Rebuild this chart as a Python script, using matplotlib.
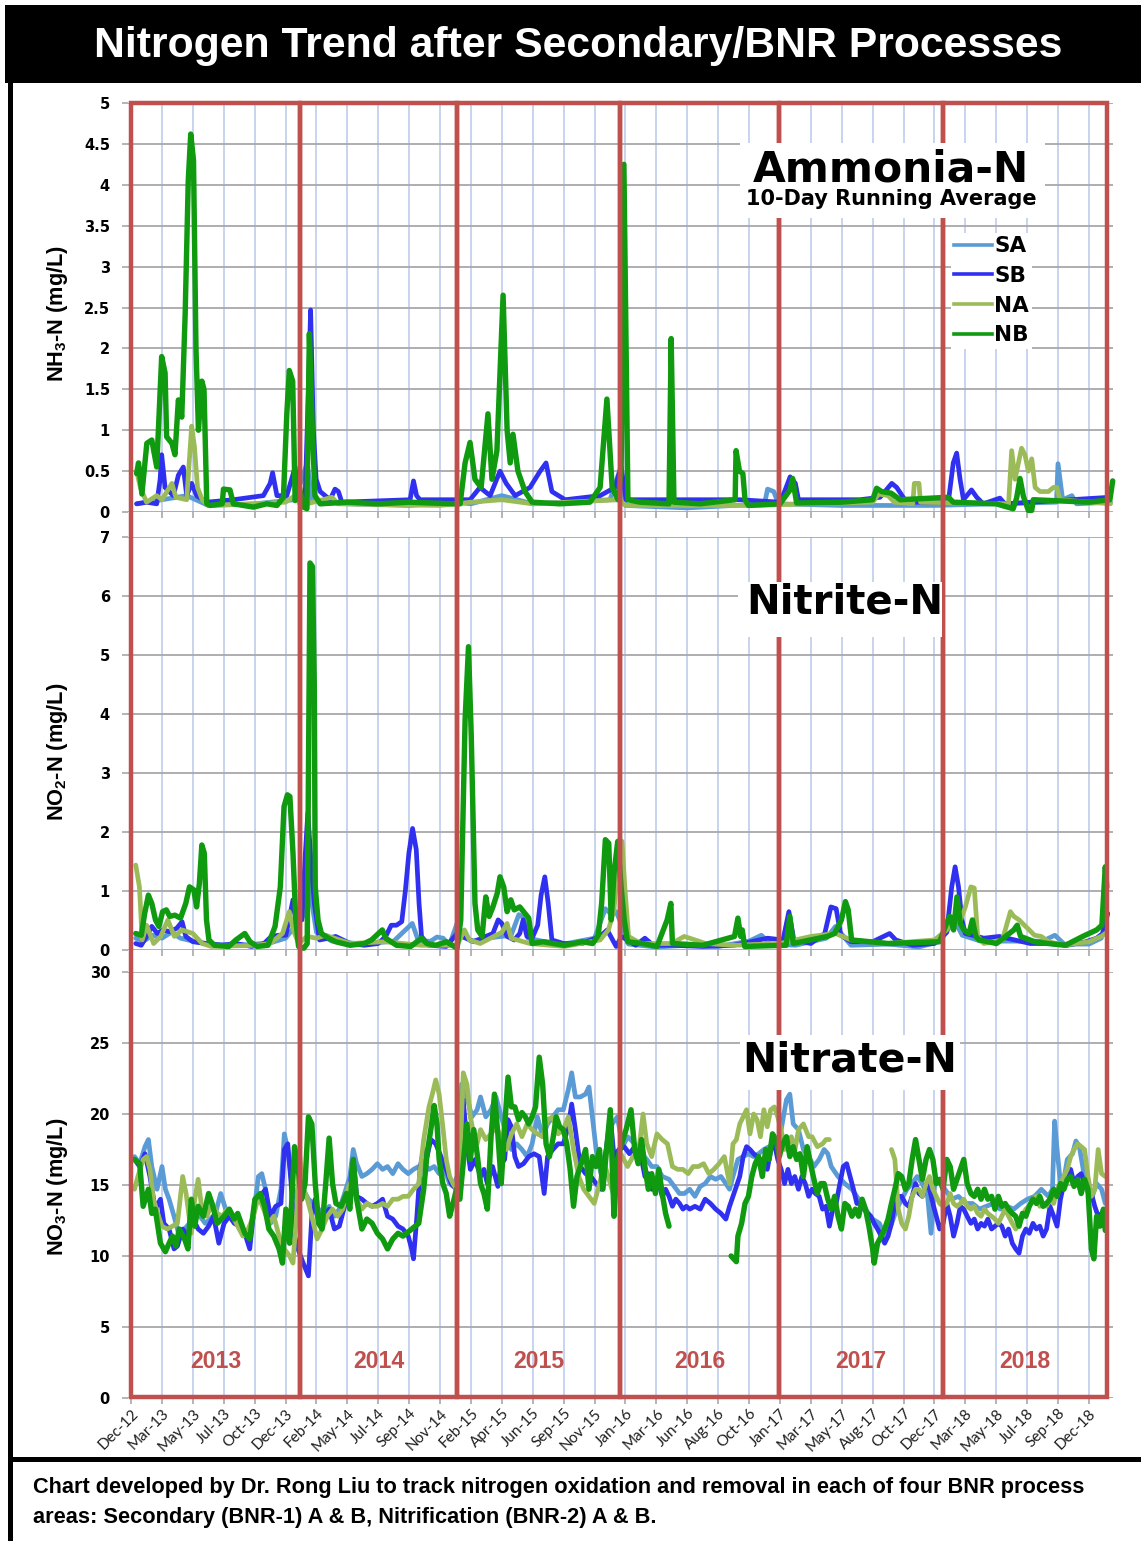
import numpy as np
import matplotlib
matplotlib.use('Agg')
import matplotlib.pyplot as plt
from matplotlib import font_manager as fm
from matplotlib.patches import Rectangle
from matplotlib.lines import Line2D
import matplotlib.transforms as mtransforms

# ---------------- data ----------------
XLABELS = ['Dec-12','Mar-13','May-13','Jul-13','Oct-13','Dec-13','Feb-14','May-14','Jul-14','Sep-14',
           'Nov-14','Feb-15','Apr-15','Jun-15','Sep-15','Nov-15','Jan-16','Mar-16','Jun-16','Aug-16',
           'Oct-16','Jan-17','Mar-17','May-17','Aug-17','Oct-17','Dec-17','Mar-18','May-18','Jul-18',
           'Sep-18','Dec-18']
YEARS = ['2013', '2014', '2015', '2016', '2017', '2018']
YEAR_EDGES = [0, 5.47, 10.55, 15.83, 20.97, 26.28, 31.59]   # in axis (tick-index) units
SERIES = ['SA', 'SB', 'NA', 'NB']
NAN = float('nan')

# Ammonia-N (mg/L): (x in tick units, value)
NH3_SA = [(0.18,0.10),(1.0,0.15),(1.8,0.20),(2.5,0.08),(4.0,0.10),(5.3,0.15),(5.7,0.60),(5.85,0.15),(7,0.10),
          (9,0.08),(10.5,0.12),(11.0,0.10),(12.0,0.20),(13.0,0.10),(15.5,0.15),(15.85,0.55),(16.0,0.08),
          (18,0.05),(20.5,0.10),(20.6,0.28),(20.8,0.25),(20.95,0.10),(23,0.08),(26,0.08),(28,0.10),
          (29.95,0.12),(30.0,0.59),(30.15,0.15),(30.45,0.20),(30.6,0.10),(31.7,0.12)]
NH3_SB = [(0.18,0.10),(0.5,0.12),(0.83,0.10),(0.94,0.40),(0.99,0.70),(1.10,0.30),(1.37,0.20),(1.53,0.45),
          (1.69,0.55),(1.80,0.20),(1.96,0.35),(2.12,0.20),(2.45,0.12),(3.31,0.15),(4.28,0.20),(4.50,0.35),
          (4.58,0.48),(4.72,0.20),(5.04,0.20),(5.31,0.55),(5.42,0.20),(5.63,0.15),(5.74,1.50),(5.81,2.47),
          (5.90,1.00),(5.99,0.40),(6.12,0.25),(6.44,0.15),(6.60,0.28),(6.71,0.25),(6.82,0.12),(9.03,0.15),
          (9.14,0.38),(9.24,0.20),(9.35,0.15),(10.43,0.15),(10.97,0.15),(11.29,0.30),(11.62,0.20),
          (11.94,0.50),(12.14,0.35),(12.43,0.20),(12.91,0.30),(13.24,0.50),(13.43,0.60),(13.62,0.25),
          (14.05,0.15),(15.18,0.20),(15.66,0.30),(15.86,0.55),(16.02,0.15),(18.41,0.15),(19.71,0.15),
          (21.0,0.12),(21.17,0.27),(21.33,0.43),(21.5,0.35),(21.6,0.15),(23.59,0.15),(24.24,0.18),
          (24.62,0.35),(24.78,0.30),(24.99,0.18),(25.1,0.12),(26.45,0.12),(26.61,0.60),(26.72,0.72),
          (26.83,0.40),(26.94,0.15),(27.2,0.27),(27.37,0.18),(27.58,0.10),(28.12,0.17),(28.28,0.10),
          (31.68,0.18)]
NH3_NA = [(0.18,0.50),(0.3,0.30),(0.5,0.12),(0.83,0.20),(1.0,0.15),(1.32,0.35),(1.45,0.18),(1.8,0.15),
          (1.96,1.05),(2.05,0.80),(2.15,0.30),(2.3,0.15),(2.5,0.08),(4,0.10),(5.0,0.12),(5.3,0.20),(5.5,0.08),
          (6.5,0.18),(6.7,0.10),(10,0.08),(11,0.12),(12,0.15),(13,0.10),(15.8,0.15),(16,0.08),(20,0.08),
          (24.0,0.12),(24.2,0.22),(24.5,0.20),(24.7,0.12),(25.3,0.10),(25.35,0.35),(25.5,0.35),(25.55,0.12),
          (28.4,0.10),(28.5,0.75),(28.61,0.40),(28.72,0.60),(28.82,0.78),(28.93,0.70),(29.04,0.50),
          (29.15,0.65),(29.26,0.30),(29.42,0.25),(29.69,0.25),(29.85,0.30),(29.96,0.30),(30.06,0.15),
          (31.7,0.10)]
NH3_NB = [(0.18,0.47),(0.24,0.60),(0.35,0.22),(0.51,0.84),(0.67,0.88),(0.83,0.55),(0.99,1.90),(1.10,1.70),
          (1.15,0.92),(1.32,0.84),(1.42,0.70),(1.53,1.37),(1.64,1.16),(1.75,2.42),(1.85,4.05),(1.93,4.62),
          (2.02,4.30),(2.10,2.00),(2.18,1.00),(2.29,1.60),(2.36,1.50),(2.45,0.10),(2.56,0.08),(2.95,0.10),
          (2.99,0.28),(3.20,0.27),(3.31,0.10),(3.96,0.06),(4.39,0.10),(4.72,0.08),(4.93,0.18),(5.04,1.20),
          (5.12,1.73),(5.23,1.60),(5.31,0.14),(5.45,0.30),(5.58,0.06),(5.69,0.04),(5.77,2.18),(5.85,1.20),
          (5.95,0.20),(6.12,0.10),(7.0,0.12),(8.0,0.10),(9.0,0.12),(10.43,0.10),(10.65,0.10),(10.81,0.60),
          (10.97,0.85),(11.13,0.40),(11.33,0.30),(11.55,1.20),(11.68,0.40),(11.84,0.75),(12.04,2.65),
          (12.17,1.00),(12.27,0.60),(12.36,0.95),(12.52,0.50),(12.75,0.25),(12.98,0.12),(13.88,0.10),
          (14.85,0.12),(15.18,0.30),(15.40,1.38),(15.57,0.30),(15.76,0.15),(15.86,0.50),(15.95,4.25),
          (16.08,0.15),(16.47,0.12),(17.41,0.10),(17.48,2.12),(17.57,0.12),(18.41,0.10),(19.55,0.15),
          (19.58,0.75),(19.69,0.50),(19.80,0.47),(19.87,0.15),(19.98,0.08),(21.0,0.10),(21.33,0.27),
          (21.41,0.41),(21.54,0.11),(23.0,0.12),(24.0,0.15),(24.13,0.29),(24.29,0.25),(24.6,0.23),
          (24.89,0.15),(26.45,0.18),(26.61,0.12),(28.0,0.10),(28.55,0.04),(28.66,0.17),(28.77,0.41),
          (28.88,0.19),(29.04,0.02),(29.15,0.02),(29.20,0.15),(31.0,0.12),(31.68,0.15),(31.77,0.38)]

# Nitrite-N (mg/L)
NO2_SA = [(0.15,0.20),(0.4,0.15),(0.7,0.25),(1.0,0.20),(1.3,0.30),(1.6,0.20),(2.0,0.15),(2.5,0.10),(3.5,0.08),
          (4.5,0.12),(5.0,0.20),(5.3,0.40),(5.6,0.60),(5.75,1.50),(5.85,0.80),(6.0,0.30),(6.5,0.15),(7.5,0.10),
          (8.5,0.15),(8.9,0.35),(9.1,0.45),(9.3,0.15),(9.7,0.15),(9.9,0.22),(10.1,0.20),(10.3,0.08),
          (10.55,0.45),(10.7,0.30),(11.0,0.15),(11.5,0.20),(12.3,0.25),(12.55,0.60),(12.7,0.55),(12.85,0.20),
          (13.3,0.15),(14.0,0.10),(15.0,0.20),(15.35,0.70),(15.55,0.60),(15.7,0.65),(15.9,0.40),(16.1,0.10),
          (17.0,0.05),(18.0,0.08),(19.0,0.06),(20.0,0.15),(20.4,0.25),(20.7,0.10),(21.5,0.08),(22.5,0.20),
          (22.8,0.40),(22.95,0.30),(23.3,0.08),(24.5,0.10),(25.5,0.05),(26.2,0.15),(26.5,0.40),(26.7,0.45),
          (26.9,0.25),(27.5,0.15),(28.5,0.15),(29.5,0.15),(29.9,0.25),(30.2,0.10),(31.0,0.10),(31.4,0.20),
          (31.58,0.60)]
NO2_SB = [(0.15,0.11),(0.33,0.08),(0.50,0.23),(0.67,0.40),(0.85,0.28),(1.02,0.34),(1.25,0.31),(1.48,0.37),
          (1.65,0.48),(1.77,0.23),(2.0,0.14),(2.44,0.11),(2.93,0.08),(3.4,0.11),(3.9,0.06),(4.3,0.11),
          (4.54,0.23),(4.78,0.25),(5.01,0.25),(5.24,0.85),(5.36,0.51),(5.53,0.51),(5.64,1.64),(5.72,2.32),
          (5.82,1.53),(5.93,0.79),(6.10,0.17),(6.39,0.20),(6.62,0.23),(7.09,0.11),(7.55,0.08),(8.0,0.11),
          (8.24,0.23),(8.42,0.42),(8.59,0.42),(8.76,0.48),(8.88,1.02),(8.99,1.64),(9.11,2.06),(9.23,1.70),
          (9.32,0.79),(9.40,0.23),(9.63,0.08),(10.2,0.06),(10.55,0.28),(10.7,0.23),(11.1,0.14),(11.48,0.23),
          (11.71,0.28),(11.88,0.51),(12.0,0.45),(12.17,0.23),(12.4,0.17),(12.58,0.28),(12.69,0.51),
          (12.81,0.23),(12.98,0.20),(13.16,0.42),(13.27,0.93),(13.39,1.24),(13.50,0.79),(13.62,0.17),
          (14.0,0.11),(14.6,0.11),(15.18,0.23),(15.41,0.34),(15.70,0.06),(15.87,0.23),(16.33,0.08),
          (16.63,0.20),(16.9,0.08),(17.5,0.08),(18.5,0.06),(19.5,0.08),(20.6,0.20),(21.1,0.17),(21.29,0.65),
          (21.45,0.17),(22.0,0.11),(22.45,0.28),(22.65,0.73),(22.82,0.70),(22.97,0.25),(23.3,0.14),
          (24.0,0.14),(24.55,0.28),(24.75,0.17),(25.3,0.08),(26.0,0.11),(26.4,0.30),(26.56,1.07),
          (26.67,1.41),(26.78,1.07),(26.89,0.51),(27.0,0.28),(27.6,0.20),(28.1,0.23),(28.6,0.17),
          (29.1,0.11),(29.7,0.11),(30.3,0.08),(30.9,0.14),(31.25,0.20),(31.45,0.28),(31.61,0.62)]
NO2_NA = [(0.15,1.44),(0.27,1.07),(0.36,0.17),(0.5,0.42),(0.73,0.11),(0.96,0.23),(1.19,0.51),(1.4,0.23),
          (1.65,0.34),(2.0,0.28),(2.3,0.11),(2.6,0.06),(4.0,0.08),(4.5,0.11),(4.9,0.28),(5.12,0.65),
          (5.25,0.34),(5.42,0.11),(5.7,0.23),(6.0,0.20),(6.3,0.25),(7.09,0.11),(8.2,0.14),(9.4,0.08),
          (10.55,0.08),(10.79,0.34),(10.95,0.17),(11.3,0.11),(12.0,0.30),(12.17,0.45),(12.3,0.20),
          (12.9,0.11),(14.02,0.06),(15.18,0.17),(15.45,0.34),(15.63,0.68),(15.81,1.87),(15.89,1.84),
          (15.98,1.07),(16.1,0.23),(16.5,0.11),(17.5,0.11),(17.9,0.23),(18.08,0.20),(18.6,0.11),(19.5,0.08),
          (21.0,0.11),(22.0,0.23),(22.8,0.28),(23.3,0.17),(24.5,0.11),(26.0,0.17),(26.4,0.34),(26.7,0.62),
          (26.85,0.51),(27.0,0.73),(27.18,1.07),(27.29,1.05),(27.4,0.23),(27.6,0.11),(28.2,0.17),
          (28.46,0.65),(28.57,0.57),(28.74,0.51),(29.01,0.37),(29.24,0.25),(29.46,0.23),(29.7,0.14),
          (30.2,0.08),(31.0,0.14),(31.4,0.23),(31.58,0.30)]
NO2_NB = [(0.15,0.28),(0.33,0.25),(0.44,0.62),(0.56,0.93),(0.67,0.79),(0.79,0.51),(0.90,0.40),(1.02,0.65),
          (1.14,0.68),(1.25,0.57),(1.42,0.59),(1.60,0.54),(1.77,0.79),(1.89,1.07),(2.03,1.02),(2.12,0.73),
          (2.21,1.13),(2.29,1.78),(2.37,1.64),(2.44,0.51),(2.52,0.17),(2.70,0.08),(3.16,0.06),(3.39,0.17),
          (3.68,0.28),(3.85,0.14),(4.08,0.06),(4.43,0.08),(4.66,0.40),(4.83,1.07),(4.95,2.43),(5.06,2.63),
          (5.14,2.60),(5.24,1.64),(5.33,0.51),(5.42,0.06),(5.59,0.03),(5.70,0.11),(5.79,6.56),(5.87,6.50),
          (5.93,4.47),(5.96,1.07),(6.05,0.51),(6.16,0.28),(6.39,0.20),(6.62,0.14),(7.09,0.08),(7.55,0.11),
          (7.78,0.17),(8.13,0.34),(8.24,0.20),(8.59,0.08),(9.05,0.06),(9.40,0.20),(9.57,0.11),(9.86,0.08),
          (10.21,0.14),(10.55,0.03),(10.67,0.51),(10.81,3.90),(10.92,5.14),(11.01,3.62),(11.13,0.79),
          (11.22,0.34),(11.36,0.23),(11.48,0.90),(11.59,0.57),(11.71,0.73),(11.85,0.96),(11.94,1.24),
          (12.06,1.07),(12.17,0.65),(12.29,0.85),(12.40,0.68),(12.58,0.73),(12.75,0.62),(12.87,0.54),
          (12.98,0.11),(13.33,0.14),(14.02,0.08),(14.60,0.14),(14.94,0.11),(15.12,0.25),(15.23,0.79),
          (15.35,1.87),(15.46,1.81),(15.54,0.51),(15.63,1.30),(15.75,1.84),(15.86,1.07),(15.96,0.51),
          (16.07,0.14),(16.56,0.11),(17.02,0.06),(17.35,0.51),(17.47,0.79),(17.52,0.11),(18.5,0.08),
          (19.53,0.23),(19.64,0.54),(19.73,0.23),(19.78,0.34),(19.86,0.06),(21.2,0.08),(21.32,0.57),
          (21.43,0.11),(22.54,0.23),(22.77,0.28),(22.99,0.51),(23.12,0.82),(23.21,0.68),(23.32,0.17),
          (24.5,0.11),(26.17,0.14),(26.39,0.45),(26.50,0.57),(26.62,0.34),(26.73,0.90),(26.84,0.45),
          (26.95,0.34),(27.12,0.28),(27.23,0.51),(27.34,0.23),(27.45,0.17),(28.01,0.11),(28.57,0.34),
          (28.68,0.42),(28.79,0.23),(29.24,0.14),(29.69,0.11),(30.24,0.08),(30.80,0.23),(31.25,0.34),
          (31.42,0.42),(31.53,1.41),(31.58,1.07)]

# Nitrate-N (mg/L)
NO3_SA = [(0.11,17.0),(0.28,16.5),(0.45,17.7),(0.56,18.2),(0.67,16.3),(0.84,14.7),(1.00,16.3),(1.11,14.7),
          (1.23,14.0),(1.39,12.8),(1.56,11.4),(1.73,11.9),(1.89,12.3),(2.06,13.3),(2.23,12.8),(2.40,12.3),
          (2.56,12.6),(2.73,13.0),(2.90,14.4),(3.06,13.3),(3.23,12.8),(3.40,12.3),(3.57,11.9),(3.79,11.4),
          (3.96,12.8),(4.12,15.6),(4.23,15.8),(4.35,14.7),(4.51,12.3),(4.68,12.8),(4.85,14.7),(4.96,18.6),
          (5.07,17.5),(5.18,15.6),(5.29,14.2),(5.40,14.0),(5.57,14.7),(5.74,14.0),(5.91,13.7),(6.07,13.3),
          (6.24,13.0),(6.41,13.5),(6.58,12.8),(6.74,13.3),(6.91,14.4),(7.08,15.6),(7.19,17.5),(7.30,16.5),
          (7.47,15.6),(7.63,15.8),(7.80,16.1),(7.97,16.5),(8.14,16.1),(8.30,16.3),(8.47,15.8),(8.64,16.5),
          (8.80,16.1),(8.97,15.8),(9.14,16.1),(9.31,16.3),(9.47,16.5),(9.64,16.1),(9.81,16.3),(9.97,15.8),
          (10.14,16.1),(10.31,15.1),(10.42,14.9),(10.59,15.8),(10.70,22.1),(10.87,21.2),(11.03,19.8),
          (11.20,20.3),(11.31,21.2),(11.48,19.8),(11.65,20.3),(11.81,21.2),(11.98,19.8),(12.15,18.6),
          (12.31,17.5),(12.48,17.9),(12.65,17.5),(12.82,17.0),(12.98,17.9),(13.15,19.8),(13.32,18.4),
          (13.48,19.3),(13.65,19.8),(13.82,20.3),(13.99,20.3),(14.15,21.7),(14.26,22.9),(14.38,21.2),
          (14.54,21.2),(14.71,21.4),(14.82,21.9),(14.93,19.8),(15.05,17.5),(15.21,15.8),(15.57,19.3),
          (15.74,19.8),(15.91,17.7),(16.07,18.4),(16.30,17.9),(16.52,17.2),(16.69,16.8),(16.85,16.3),
          (17.02,16.3),(17.19,15.6),(17.41,15.4),(17.58,14.9),(17.75,14.4),(17.91,14.4),(18.08,14.7),
          (18.25,14.2),(18.42,14.9),(18.58,15.1),(18.75,15.6),(18.92,15.4),(19.09,15.6),(19.25,15.1),
          (19.37,14.7),(19.48,15.6),(19.64,16.8),(19.81,17.0),(19.98,17.2),(20.15,17.0),(20.31,17.2),
          (20.48,17.5),(20.65,17.7),(20.82,17.9),(20.93,18.2),(21.04,18.9),(21.21,21.0),(21.32,21.4),
          (21.43,19.3),(21.60,18.9),(21.76,17.5),(21.93,17.0),(22.10,16.3),(22.27,16.8),(22.43,17.5),
          (22.55,17.2),(22.66,16.3),(22.88,15.6),(23.10,15.1),(23.33,14.7),(23.55,14.0),(23.77,13.3),
          (24.00,12.6),(24.22,12.3),(24.39,11.4),(24.55,11.9),(24.78,13.3),(24.94,14.0),(25.11,14.7),
          (25.28,15.1),(25.44,15.6),(25.61,15.1),(25.78,14.2),(25.89,11.6),(26.01,15.1),(26.12,15.4),
          (26.34,14.7),(26.56,14.0),(26.78,14.2),(27.01,13.7),(27.23,13.7),(27.46,13.3),(27.68,13.5),
          (27.90,13.7),(28.13,13.3),(28.35,13.5),(28.57,13.3),(28.79,13.7),(29.01,14.0),(29.24,14.2),
          (29.46,14.7),(29.69,14.2),(29.82,14.7),(29.89,19.5),(29.97,17.5),(30.08,15.1),(30.19,15.4),
          (30.30,16.8),(30.47,17.2),(30.58,18.1),(30.69,17.7),(30.80,16.3),(30.92,14.7),(31.08,14.0),
          (31.25,15.1),(31.41,14.7),(31.53,13.7)]
NO3_SB = [(0.11,16.8),(0.28,16.3),(0.45,17.2),(0.61,15.6),(0.78,13.3),(0.95,14.0),(1.06,12.3),(1.23,11.9),
          (1.39,10.5),(1.50,10.7),(1.67,11.9),(1.84,11.4),(2.01,12.6),(2.17,11.9),(2.34,11.6),(2.51,12.1),
          (2.67,12.8),(2.84,10.9),(3.01,12.3),(3.18,12.8),(3.34,12.3),(3.51,12.1),(3.68,11.6),(3.84,10.5),
          (4.01,14.0),(4.18,14.2),(4.35,14.7),(4.51,12.8),(4.68,13.5),(4.85,13.7),(4.96,17.5),(5.07,17.9),
          (5.18,15.1),(5.29,11.4),(5.40,10.5),(5.57,9.5),(5.74,8.6),(5.85,12.8),(5.96,14.0),(6.07,12.3),
          (6.24,12.8),(6.41,13.3),(6.58,11.9),(6.74,12.1),(6.91,13.5),(7.08,14.7),(7.19,16.8),(7.30,14.2),
          (7.47,14.0),(7.63,13.7),(7.80,13.5),(7.97,13.7),(8.14,14.0),(8.30,12.8),(8.47,12.6),(8.64,12.1),
          (8.80,11.9),(8.97,11.4),(9.08,10.5),(9.14,9.8),(9.25,12.8),(9.36,16.3),(9.47,17.5),(9.58,17.0),
          (9.70,18.2),(9.86,17.9),(10.03,17.0),(10.20,16.1),(10.36,15.1),(10.53,14.7),(10.64,16.3),
          (10.75,21.0),(10.87,17.9),(10.98,16.1),(11.14,16.8),(11.31,15.6),(11.42,16.1),(11.53,15.1),
          (11.70,16.3),(11.87,14.9),(11.98,16.5),(12.09,16.8),(12.20,19.6),(12.31,19.1),(12.42,17.0),
          (12.54,16.3),(12.70,16.5),(12.87,17.0),(13.04,17.2),(13.21,17.0),(13.37,14.4),(13.48,17.0),
          (13.65,17.5),(13.82,17.9),(13.99,17.9),(14.15,19.1),(14.26,20.7),(14.38,18.9),(14.54,16.3),
          (14.71,15.8),(14.88,15.6),(15.05,15.1),(15.21,14.7),(15.51,19.8),(15.63,17.0),(15.79,17.5),
          (15.96,17.7),(16.13,17.2),(16.30,17.7),(16.46,17.5),(16.63,15.6),(16.74,15.8),(16.85,14.7),
          (16.97,14.7),(17.08,15.1),(17.19,14.2),(17.30,14.7),(17.41,14.2),(17.52,13.5),(17.63,14.0),
          (17.75,13.7),(17.86,13.3),(17.97,13.5),(18.08,13.3),(18.25,13.5),(18.42,13.3),(18.58,14.0),
          (18.75,13.7),(18.92,13.3),(19.09,13.0),(19.25,12.6),(19.37,13.5),(19.48,14.2),(19.59,14.9),
          (19.70,15.6),(19.81,17.0),(19.92,17.7),(20.03,17.5),(20.15,17.2),(20.26,17.0),(20.37,16.8),
          (20.48,16.5),(20.59,16.1),(20.71,17.5),(20.82,17.9),(20.93,16.8),(21.04,16.1),(21.15,15.1),
          (21.26,16.1),(21.37,15.1),(21.48,15.6),(21.60,14.7),(21.71,15.6),(21.82,15.1),(21.93,14.2),
          (22.04,14.7),(22.15,14.4),(22.27,14.2),(22.38,13.3),(22.49,13.5),(22.60,12.1),(22.71,13.3),
          (22.82,13.7),(22.94,15.1),(23.05,16.3),(23.16,16.5),(23.27,15.6),(23.38,14.7),(23.49,13.7),
          (23.61,13.7),(23.72,13.3),(23.83,13.0),(23.94,12.8),(24.05,12.3),(24.16,11.9),(24.28,11.4),
          (24.39,10.9),(24.50,11.4),(24.61,12.3),(24.72,13.7),(24.83,14.2),(24.94,14.2),(25.06,13.7),
          (25.17,13.5),(25.28,14.2),(25.39,15.1),(25.50,14.4),(25.61,14.2),(25.73,15.1),(25.84,14.7),
          (25.95,13.7),(26.06,12.8),(26.17,11.9),(26.28,12.3),(26.40,13.7),(26.51,12.8),(26.62,11.4),
          (26.73,12.3),(26.84,13.5),(26.95,13.3),(27.06,12.8),(27.18,12.3),(27.29,12.6),(27.40,11.9),
          (27.51,12.3),(27.62,12.1),(27.73,12.6),(27.85,11.9),(27.96,12.1),(28.07,12.3),(28.18,12.1),
          (28.29,11.4),(28.40,11.9),(28.52,10.9),(28.63,10.5),(28.74,10.2),(28.85,11.4),(28.96,11.9),
          (29.07,11.6),(29.19,12.3),(29.30,11.9),(29.41,12.1),(29.52,11.4),(29.63,11.9),(29.74,13.5),
          (29.86,12.8),(29.97,12.1),(30.08,14.0),(30.19,15.1),(30.30,15.6),(30.41,16.1),(30.52,15.1),
          (30.64,15.6),(30.75,15.8),(30.86,15.1),(30.97,14.9),(31.08,14.4),(31.19,13.5),(31.30,12.8),
          (31.41,13.0),(31.53,13.3)]
NO3_NA = [(0.11,14.7),(0.22,15.6),(0.39,16.8),(0.50,17.0),(0.61,16.1),(0.72,14.0),(0.89,12.8),(1.00,12.1),
          (1.17,11.9),(1.34,12.1),(1.50,12.3),(1.67,15.6),(1.78,14.4),(1.95,11.6),(2.06,14.0),(2.17,15.4),
          (2.29,13.3),(2.45,12.8),(2.62,13.7),(2.79,13.0),(2.95,12.8),(3.12,13.3),(3.29,12.8),(3.45,12.1),
          (3.62,11.4),(3.79,11.9),(3.96,12.8),(4.12,14.2),(4.29,13.3),(4.46,12.3),(4.62,12.8),(4.79,11.4),
          (4.96,10.5),(5.13,10.0),(5.24,9.5),(5.35,12.8),(5.46,17.0),(5.57,14.7),(5.68,14.2),(5.85,12.8),
          (6.02,11.2),(6.18,11.9),(6.35,12.8),(6.52,13.3),(6.69,12.8),(6.85,13.3),(7.02,14.7),(7.19,15.6),
          (7.30,14.0),(7.47,13.3),(7.63,13.7),(7.80,13.5),(7.97,13.5),(8.14,13.7),(8.30,13.5),(8.47,14.0),
          (8.64,14.0),(8.80,14.2),(8.97,14.2),(9.14,14.7),(9.31,15.1),(9.47,18.2),(9.64,20.5),(9.75,21.4),
          (9.86,22.4),(9.97,21.4),(10.09,19.1),(10.20,16.8),(10.31,15.6),(10.42,15.1),(10.53,14.7),
          (10.64,16.3),(10.75,22.9),(10.87,22.1),(10.98,19.8),(11.09,18.6),(11.20,17.9),(11.31,18.9),
          (11.48,18.2),(11.65,18.6),(11.81,19.1),(11.98,18.4),(12.15,17.5),(12.31,18.6),(12.48,19.3),
          (12.65,18.4),(12.82,19.3),(12.98,18.9),(13.15,18.6),(13.32,18.4),(13.48,19.6),(13.65,19.8),
          (13.82,18.6),(13.99,18.9),(14.15,19.8),(14.32,17.5),(14.49,15.6),(14.65,14.7),(14.82,14.2),
          (14.99,13.7),(15.16,15.1),(15.32,16.5),(15.63,14.2),(15.85,17.2),(16.07,16.3),(16.24,17.0),
          (16.41,17.0),(16.57,20.0),(16.69,17.9),(16.85,17.0),(17.02,18.6),(17.19,18.2),(17.36,17.9),
          (17.52,16.3),(17.69,16.1),(17.86,16.1),(18.03,15.8),(18.19,16.3),(18.36,16.3),(18.53,16.5),
          (18.70,15.8),(18.86,16.1),(19.03,16.5),(19.20,17.0),(19.37,15.1),(19.48,17.9),(19.59,18.2),
          (19.70,19.3),(19.81,19.8),(19.92,20.3),(20.03,18.6),(20.15,20.0),(20.26,19.6),(20.37,18.4),
          (20.48,20.3),(20.59,19.1),(20.70,20.3),(20.82,20.5),(20.93,19.8),(21.04,18.9),(21.15,17.5),
          (21.26,17.9),(21.37,18.4),(21.49,17.5),(21.60,18.9),(21.76,19.3),(21.93,18.4),(22.04,18.4),
          (22.21,17.7),(22.38,17.9),(22.49,18.2),(22.60,18.2),(22.61,NAN),(24.61,17.5),(24.72,16.8),
          (24.83,13.3),(24.94,12.3),(25.06,11.9),(25.17,12.8),(25.28,14.2),(25.39,14.7),(25.50,14.7),
          (25.61,14.2),(25.73,15.1),(25.84,15.6),(25.95,14.7),(26.06,14.2),(26.17,13.7),(26.28,13.5),
          (26.40,13.7),(26.51,14.4),(26.62,13.7),(26.73,13.5),(26.84,13.7),(26.95,14.0),(27.06,13.5),
          (27.18,13.3),(27.29,13.5),(27.40,13.0),(27.51,12.8),(27.62,13.3),(27.73,13.0),(27.85,12.8),
          (27.96,12.6),(28.07,12.3),(28.18,12.8),(28.29,13.3),(28.40,12.8),(28.52,12.3),(28.63,11.9),
          (28.74,12.3),(28.85,12.8),(28.96,13.3),(29.07,13.5),(29.19,14.0),(29.30,14.2),(29.41,13.5),
          (29.52,13.7),(29.63,13.5),(29.74,14.0),(29.86,13.7),(29.97,14.7),(30.08,15.1),(30.19,15.6),
          (30.30,16.1),(30.41,17.0),(30.52,17.5),(30.64,17.9),(30.75,17.7),(30.86,17.5),(30.97,15.6),
          (31.08,14.2),(31.19,14.7),(31.30,17.5),(31.41,15.8),(31.53,15.6)]
NO3_NB = [(0.11,16.8),(0.28,16.5),(0.39,13.5),(0.56,14.7),(0.67,13.0),(0.78,13.3),(0.95,10.9),(1.11,10.3),
          (1.23,10.9),(1.34,11.4),(1.45,10.7),(1.56,11.9),(1.73,11.2),(1.84,10.5),(1.95,14.0),(2.06,12.1),
          (2.17,13.5),(2.34,12.8),(2.51,14.4),(2.62,13.7),(2.79,12.3),(3.01,12.8),(3.18,13.3),(3.34,12.6),
          (3.45,13.0),(3.68,11.6),(3.84,11.2),(4.01,14.0),(4.18,14.4),(4.32,13.5),(4.46,11.9),(4.62,11.4),
          (4.79,10.5),(4.90,9.5),(5.01,13.3),(5.13,10.9),(5.29,17.7),(5.40,16.3),(5.52,14.0),(5.63,15.1),
          (5.74,19.8),(5.85,19.3),(5.96,15.1),(6.07,12.3),(6.18,11.9),(6.30,15.1),(6.41,18.3),(6.52,15.1),
          (6.63,13.7),(6.80,13.5),(6.97,14.4),(7.08,13.3),(7.19,16.8),(7.30,14.0),(7.47,11.9),(7.63,12.6),
          (7.80,12.3),(7.97,11.6),(8.14,11.2),(8.30,10.5),(8.47,11.2),(8.64,11.6),(8.80,11.4),(8.97,11.7),
          (9.14,12.0),(9.31,12.3),(9.47,14.7),(9.58,17.2),(9.70,18.9),(9.81,20.6),(9.90,19.3),(9.97,16.8),
          (10.09,15.1),(10.20,14.4),(10.31,12.8),(10.42,13.7),(10.53,14.7),(10.64,14.0),(10.75,16.5),
          (10.87,19.3),(10.98,16.8),(11.09,18.9),(11.20,17.2),(11.31,15.1),(11.42,14.4),(11.53,13.3),
          (11.65,18.4),(11.76,21.4),(11.87,18.6),(11.98,15.1),(12.09,19.1),(12.20,22.6),(12.31,20.5),
          (12.42,20.5),(12.54,19.6),(12.65,20.1),(12.76,19.8),(12.87,19.3),(12.98,19.8),(13.09,20.5),
          (13.21,24.0),(13.32,22.1),(13.43,17.9),(13.54,17.0),(13.65,18.2),(13.76,19.8),(13.87,19.1),
          (13.99,18.9),(14.10,17.9),(14.21,16.1),(14.32,13.5),(14.43,15.6),(14.54,16.3),(14.71,17.5),
          (14.82,14.7),(14.93,17.0),(15.05,16.3),(15.16,17.5),(15.27,14.7),(15.51,20.3),(15.63,12.8),
          (15.74,16.8),(15.85,17.7),(16.02,18.9),(16.18,20.3),(16.30,17.5),(16.41,16.5),(16.52,18.2),
          (16.63,16.3),(16.74,14.7),(16.85,15.8),(16.97,14.4),(17.08,16.1),(17.19,14.4),(17.30,13.0),
          (17.41,12.1),(17.42,NAN),(19.42,10.0),(19.59,9.6),(19.64,11.4),(19.76,12.3),(19.87,13.7),
          (19.98,14.2),(20.09,15.6),(20.20,16.5),(20.31,17.0),(20.43,15.6),(20.54,17.5),(20.65,16.8),
          (20.76,18.6),(20.87,18.2),(20.98,17.0),(21.09,17.9),(21.21,18.4),(21.32,17.0),(21.43,17.7),
          (21.54,16.8),(21.65,17.2),(21.76,15.6),(21.88,17.7),(21.99,16.5),(22.10,15.4),(22.21,14.4),
          (22.32,15.1),(22.43,15.1),(22.55,14.0),(22.66,13.3),(22.77,14.2),(22.88,12.8),(22.99,11.9),
          (23.10,13.7),(23.21,13.5),(23.33,12.8),(23.44,13.3),(23.55,12.8),(23.66,14.0),(23.77,13.3),
          (23.88,12.1),(24.00,10.5),(24.05,9.5),(24.16,10.9),(24.28,11.4),(24.39,11.9),(24.50,12.6),
          (24.61,13.7),(24.72,14.7),(24.83,15.8),(24.94,15.6),(25.06,14.7),(25.17,15.1),(25.28,16.8),
          (25.39,18.2),(25.50,16.8),(25.61,15.4),(25.73,16.8),(25.84,17.5),(25.95,16.8),(26.06,15.1),
          (26.17,15.4),(26.28,14.7),(26.40,16.8),(26.51,16.3),(26.62,14.7),(26.73,15.4),(26.84,16.1),
          (26.95,16.8),(27.06,15.1),(27.18,14.4),(27.29,14.2),(27.40,14.7),(27.51,14.0),(27.62,14.7),
          (27.73,14.0),(27.85,14.2),(27.96,13.3),(28.07,14.2),(28.18,13.5),(28.29,13.7),(28.40,13.3),
          (28.52,13.0),(28.63,12.8),(28.74,12.1),(28.85,13.0),(28.96,12.8),(29.07,13.5),(29.19,14.0),
          (29.30,13.7),(29.41,14.2),(29.52,13.5),(29.63,13.7),(29.74,14.0),(29.86,14.7),(29.97,14.2),
          (30.08,15.1),(30.19,14.7),(30.30,15.4),(30.41,15.6),(30.52,14.9),(30.64,15.4),(30.75,14.4),
          (30.86,15.4),(30.97,14.7),(31.08,10.5),(31.16,9.8),(31.25,12.8),(31.36,12.1),(31.47,13.3),
          (31.53,11.8)]

# ---------------- fonts ----------------
_names = {f.name for f in fm.fontManager.ttflist}
HAS_NARROW = 'Liberation Sans Narrow' in _names
NARROW = 'Liberation Sans Narrow' if HAS_NARROW else 'Liberation Sans'
NS = 1.0 if HAS_NARROW else 0.92
WIDE = 'DejaVu Sans'
plt.rcParams['mathtext.fontset'] = 'custom'
plt.rcParams['mathtext.rm'] = NARROW + ':bold'
plt.rcParams['mathtext.it'] = NARROW + ':bold'
plt.rcParams['mathtext.bf'] = NARROW + ':bold'

COLORS = {'SA': '#5b9bd5', 'SB': '#3030f0', 'NA': '#9bbb59', 'NB': '#109a10'}
WIDTHS = {'SA': 3.4, 'SB': 3.4, 'NA': 3.4, 'NB': 3.9}
RED = '#c0504d'

W, H = 1141, 1541
fig = plt.figure(figsize=(W / 100, H / 100), dpi=100)
fig.patch.set_facecolor('white')


def fx(px):
    return px / W


def fy(py):
    return 1 - py / H


def xy(pairs):
    a = np.array(pairs, dtype=float)
    return a[:, 0], a[:, 1]


panels = [
    dict(top=103, bot=512, ymax=5, step=0.5,
         data={'SA': NH3_SA, 'SB': NH3_SB, 'NA': NH3_NA, 'NB': NH3_NB}),
    dict(top=537, bot=950, ymax=7, step=1,
         data={'SA': NO2_SA, 'SB': NO2_SB, 'NA': NO2_NA, 'NB': NO2_NB}),
    dict(top=972, bot=1398, ymax=30, step=5,
         data={'SA': NO3_SA, 'SB': NO3_SB, 'NA': NO3_NA, 'NB': NO3_NB}),
]

axes = []
XL, XR = 128, 1113
for i, p in enumerate(panels):
    ax = fig.add_axes([fx(XL), fy(p['bot']), fx(XR) - fx(XL), (p['bot'] - p['top']) / H])
    ax.set_facecolor('white')
    ax.set_xlim(-0.1, 31.78)
    ax.set_ylim(0, p['ymax'])
    ax.set_xticks(np.arange(len(XLABELS)))
    yt = np.arange(0, p['ymax'] + 1e-9, p['step'])
    ax.set_yticks(yt)
    ax.set_yticklabels(['%g' % v for v in yt], fontfamily=WIDE, fontweight='bold', fontsize=10.5)
    ax.grid(axis='x', color='#c8d3ee', lw=1.4, zorder=0)
    ax.grid(axis='y', color='#a8a8a8', lw=1.3, zorder=0)
    ax.set_axisbelow(True)
    for s in ax.spines.values():
        s.set_visible(False)
    ax.tick_params(axis='y', length=4, width=1.2, color='#a8a8a8', pad=9)
    ax.tick_params(axis='x', length=4, width=1.2, color='#a8a8a8', pad=2)
    if i < 2:
        ax.tick_params(labelbottom=False)
    else:
        ax.set_xticklabels(XLABELS, rotation=45, ha='right', rotation_mode='anchor',
                           fontfamily='Lato', fontsize=11, color='#1e1e1e')
    for name in SERIES:
        x, y = xy(p['data'][name])
        ax.plot(x, y, color=COLORS[name], lw=WIDTHS[name], solid_joinstyle='round',
                solid_capstyle='round', clip_on=False, zorder=3)
    axes.append(ax)

ax1, ax2, ax3 = axes

# legend
handles = [Line2D([], [], color=COLORS[n], lw=2.6) for n in SERIES]
leg = ax1.legend(handles, SERIES, loc='upper left', bbox_to_anchor=(fx(951), fy(233)),
                 bbox_transform=fig.transFigure, frameon=True, fancybox=False, framealpha=1,
                 facecolor='white', edgecolor='none', borderpad=0.15, handlelength=1.75,
                 handletextpad=0.1, labelspacing=0.45, borderaxespad=0,
                 prop=dict(family=WIDE, weight='bold', size=15.5))
leg.set_zorder(10)

# year rectangles spanning all three panels
trans = mtransforms.blended_transform_factory(ax3.transData, fig.transFigure)
for k, yr in enumerate(YEARS):
    x0, x1 = YEAR_EDGES[k], YEAR_EDGES[k + 1]
    fig.add_artist(Rectangle((x0, fy(1397)), x1 - x0, (1397 - 103) / H, transform=trans,
                             fill=False, edgecolor=RED, lw=3.2, zorder=2))
    fig.text((x0 + x1) / 2, fy(1362), yr, transform=trans, ha='center', va='center',
             color=RED, fontsize=18 * NS, fontweight='bold', fontfamily=NARROW, zorder=5)

# white label boxes and panel titles
for (l, t, r, b) in [(740, 143, 1045, 218), (738, 582, 942, 637), (740, 1035, 960, 1090)]:
    fig.add_artist(Rectangle((fx(l), fy(b)), fx(r) - fx(l), (b - t) / H, transform=fig.transFigure,
                             facecolor='white', edgecolor='none', zorder=4))
fig.text(fx(891), fy(170), 'Ammonia-N', ha='center', va='center', fontsize=30.5,
         fontweight='bold', fontfamily=WIDE, zorder=5)
fig.text(fx(891), fy(199), '10-Day Running Average', ha='center', va='center', fontsize=15,
         fontweight='bold', fontfamily=WIDE, zorder=5)
fig.text(fx(845), fy(603), 'Nitrite-N', ha='center', va='center', fontsize=29,
         fontweight='bold', fontfamily=WIDE, zorder=5)
fig.text(fx(850), fy(1061), 'Nitrate-N', ha='center', va='center', fontsize=29.5,
         fontweight='bold', fontfamily=WIDE, zorder=5)

# y-axis labels
for (yc, lab) in [(313, 'NH$_3$-N (mg/L)'), (752, 'NO$_2$-N (mg/L)'), (1187, 'NO$_3$-N (mg/L)')]:
    fig.text(fx(57), fy(yc), lab, rotation=90, ha='center', va='center', fontsize=17 * NS,
             fontweight='bold', fontfamily=NARROW)

# title bar
fig.add_artist(Rectangle((fx(5), fy(83)), fx(1141) - fx(5), (83 - 5) / H, transform=fig.transFigure,
                         facecolor='black', edgecolor='none', zorder=6))
fig.text(fx(578), fy(46), 'Nitrogen Trend after Secondary/BNR Processes', ha='center', va='center',
         color='white', fontsize=30.8, fontweight='bold', fontfamily='Liberation Sans', zorder=7)

# frame lines
fig.add_artist(Line2D([fx(10), fx(10)], [fy(83), fy(1541)], transform=fig.transFigure,
                      color='black', lw=3.6, zorder=6))
fig.add_artist(Line2D([fx(10), fx(1141)], [fy(1459), fy(1459)], transform=fig.transFigure,
                      color='black', lw=3.6, zorder=6))

# caption
fig.text(fx(33), fy(1488), 'Chart developed by Dr. Rong Liu to track nitrogen oxidation and removal '
         'in each of four BNR process', ha='left', va='center', fontsize=17 * NS,
         fontweight='bold', fontfamily=NARROW)
fig.text(fx(33), fy(1518), 'areas: Secondary (BNR-1) A & B, Nitrification (BNR-2) A & B.',
         ha='left', va='center', fontsize=17 * NS, fontweight='bold', fontfamily=NARROW)

fig.savefig('out.png', dpi=100, facecolor='white')
